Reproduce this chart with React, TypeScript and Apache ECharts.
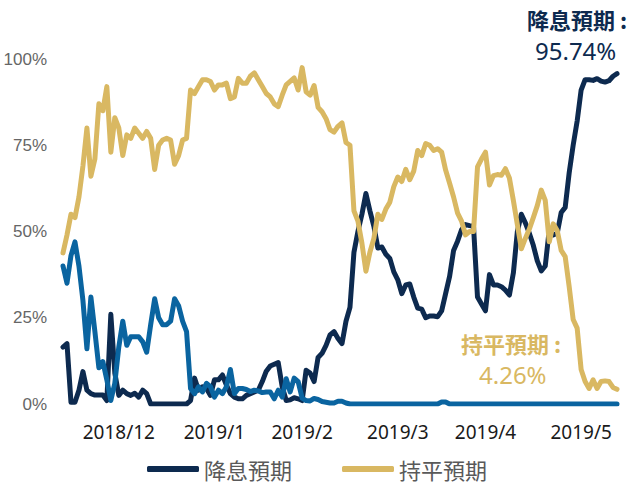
import React, { useEffect, useRef } from "react";
import * as echarts from "echarts";

// 降息預期 (rate-cut expectation), %
const cutValues = [
  16.5, 17.5, 0.5, 0.5, 4, 9.4, 4, 3, 2.6, 2.6,
  2.6, 1, 26, 9, 2.5, 4, 3, 2.5, 3.1, 2,
  4, 3, 0, 0, 0, 0, 0, 0, 0, 0,
  0, 0, 1, 7.5, 4, 5, 4.5, 2.5, 7, 7,
  8.4, 5.5, 3, 2, 1.5, 1.5, 2.5, 3, 3.5, 4,
  6.5, 9.5, 11, 11.5, 12, 5, 1, 1.2, 1.8, 1.5,
  1, 9.8, 9, 6.5, 13.5, 14.7, 17, 20, 21, 19,
  17.5, 24, 28, 44, 50, 55, 61, 56, 51.5, 45.2,
  45.5, 43.4, 42.2, 38.3, 36, 32, 34.5, 34.8, 31, 27.8,
  27.5, 25, 25.5, 25.5, 25.3, 27, 32, 37, 44.5, 47.2,
  50.5, 52, 51.7, 51.5, 31, 29, 27, 37.5, 34.5, 34.5,
  34, 33, 31.6, 38, 50, 55, 52.5, 49.5, 46, 41.5,
  38.6, 40, 50.5, 49, 49.5, 55.5, 57, 67, 75, 82,
  91, 94, 94, 93.8, 94.3, 93.6, 93.3, 93.7, 95, 95.74,
];

// 持平預期 (hold expectation), %
const holdValues = [
  43.8, 49, 55, 54, 60, 69, 80, 66, 71, 87,
  85, 92, 73, 83, 80, 72, 78, 77, 80, 78.5,
  77, 79, 77, 68, 75, 76.5, 77, 76.5, 69.5, 72,
  76.5, 77, 91, 90, 92, 94, 94, 93.5, 91, 92.5,
  92.5, 93, 88.5, 89, 94.4, 93, 93, 95, 96, 94,
  92, 90, 89, 87, 86.2, 89.5, 92.5, 93.5, 94.5, 91,
  97.5, 90.5, 89.5, 92.3, 86, 84.7, 82.7, 79.5, 78.8, 80.5,
  81.5, 75.8, 75, 56, 53, 46.6, 38.5, 44, 48, 55,
  53.5, 56.5, 58.5, 63, 65.8, 64.5, 68, 65, 67.5, 73.5,
  72, 75.5, 75, 73.5, 74, 73, 67.8, 64, 60, 55.3,
  53, 49, 50, 50, 68.7, 71, 73, 63.5, 66.2, 66.5,
  66.3, 68.2, 65.5, 59, 52, 45, 48, 50.7, 54, 57.5,
  62, 59, 47, 52.2, 50.3, 44.5, 42.7, 34, 24.5, 22,
  10, 6.5, 4.5, 7, 4.5, 6.5, 6.7, 6.5, 4.8, 4.26,
];

// 升息預期 (rate-hike expectation, not in legend), %
const hikeValues = [
  40, 35, 43, 47, 40, 30, 16, 31, 21, 10.5,
  12.3, 7, 1, 6, 16.5, 24, 17, 19.5, 19.5, 19.5,
  18, 15, 23, 30.5, 25, 23, 23, 24, 30.5, 28.5,
  24, 21, 4.5, 3, 5, 3.5, 6, 5, 2, 4,
  3, 5, 10, 3, 4.5, 4.5, 4.2, 3.6, 4, 3.8,
  3.3, 3.5, 3.5, 1.5, 4, 2, 7.3, 3.5, 7.5, 6.5,
  1.7, 1, 0.9, 1.6, 1.3, 0.7, 0.5, 0.3, 0.3, 0.8,
  0.8, 0.3, 0, 0, 0, 0, 0, 0, 0, 0,
  0, 0, 0, 0, 0, 0, 0, 0, 0, 0,
  0, 0, 0, 0, 0, 0.6, 0.6, 0, 0, 0,
  0, 0, 0, 0, 0, 0, 0, 0, 0, 0,
  0, 0, 0, 0, 0, 0, 0, 0, 0, 0,
  0, 0, 0, 0, 0, 0, 0, 0, 0, 0,
  0, 0, 0, 0, 0, 0, 0, 0, 0, 0,
];

const monthLabels = ["2018/12", "2019/1", "2019/2", "2019/3", "2019/4", "2019/5"];
const monthIndex = [14, 38, 60, 84, 106, 130];
const yTicks = [0, 25, 50, 75, 100];

const seriesNames = ["降息預期", "持平預期", "升息預期"];
const cutNote = ["降息預期 :", "95.74%"];
const holdNote = ["持平預期 :", "4.26%"];

const NAVY = "#0d2a4f";
const GOLD = "#d9b862";
const BLUE = "#0a64a0";
const CJK = '"Noto Sans CJK TC", "Noto Sans", sans-serif';
const NUM = '"Noto Sans", "Noto Sans CJK TC", sans-serif';

export default function App() {
  const ref = useRef<HTMLDivElement>(null);

  useEffect(() => {
    if (!ref.current) return;
    const chart = echarts.init(ref.current, undefined, { renderer: "svg" });
    const categories = cutValues.map((_, i) => String(i));

    const lineSeries = (name: string, data: number[], color: string, z: number) => ({
      name,
      type: "line",
      data,
      symbol: "none",
      showSymbol: false,
      z,
      lineStyle: { width: 5, color, cap: "round", join: "round" },
      itemStyle: { color },
    });

    chart.setOption({
      animation: false,
      backgroundColor: "#ffffff",
      grid: { left: 63, right: 16, top: 59, bottom: 83, outerBoundsMode: "none" },
      legend: {
        data: [seriesNames[0], seriesNames[1]],
        left: 142,
        top: 453,
        icon: "roundRect",
        itemWidth: 52,
        itemHeight: 6,
        itemGap: 50,
        textStyle: { fontSize: 22, color: "#595959", fontFamily: CJK },
      },
      xAxis: {
        type: "category",
        data: categories,
        boundaryGap: false,
        axisLine: { show: false },
        axisTick: { show: false },
        splitLine: { show: false },
        axisLabel: {
          interval: (index: number) => monthIndex.includes(index),
          formatter: (_v: string, index: number) => {
            const k = monthIndex.indexOf(index);
            return k >= 0 ? monthLabels[k] : "";
          },
          margin: 18,
          fontSize: 19,
          color: "#1a1a1a",
          fontFamily: NUM,
        },
      },
      yAxis: {
        type: "value",
        min: yTicks[0],
        max: yTicks[yTicks.length - 1],
        interval: 25,
        axisLine: { show: false },
        axisTick: { show: false },
        splitLine: { show: false },
        axisLabel: {
          formatter: "{value}%",
          margin: 16,
          fontSize: 17,
          color: "#666666",
          fontFamily: '"Liberation Sans Narrow", "Liberation Sans", sans-serif',
        },
      },
      series: [
        lineSeries(seriesNames[0], cutValues, NAVY, 2),
        lineSeries(seriesNames[1], holdValues, GOLD, 3),
        lineSeries(seriesNames[2], hikeValues, BLUE, 4),
      ],
      graphic: [
        {
          type: "text",
          left: 527,
          top: 8,
          style: { text: cutNote[0], fill: NAVY, font: `bold 22px ${CJK}` },
        },
        {
          type: "text",
          left: 535,
          top: 38,
          style: { text: cutNote[1], fill: NAVY, font: `24px ${NUM}` },
        },
        {
          type: "text",
          left: 461,
          top: 332,
          style: { text: holdNote[0], fill: GOLD, font: `bold 22px ${CJK}` },
        },
        {
          type: "text",
          left: 479,
          top: 362,
          style: { text: holdNote[1], fill: GOLD, font: `24px ${NUM}` },
        },
      ],
    });

    return () => chart.dispose();
  }, []);

  return (
    <div
      ref={ref}
      style={{ position: "absolute", left: 0, top: 0, width: 633, height: 487, background: "#fff" }}
    />
  );
}
